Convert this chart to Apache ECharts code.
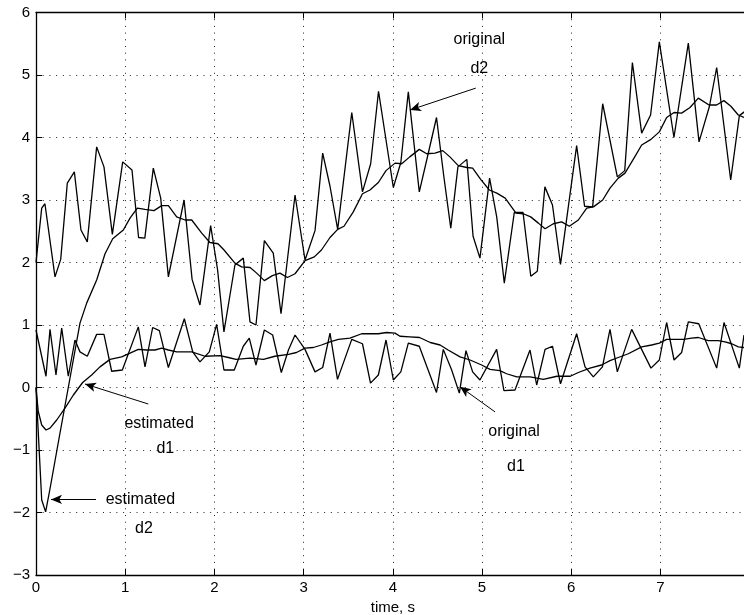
<!DOCTYPE html>
<html>
<head>
<meta charset="utf-8">
<script src="https://cdn.jsdelivr.net/npm/echarts@6/dist/echarts.min.js"></script>
<style>
  html, body { margin: 0; padding: 0; background: #fff; }
  #chart { width: 744px; height: 615px; }
</style>
</head>
<body>
<div id="chart"></div>
<script>
// Disturbance signals over time: [time in s, value]
const originalD2 = [
  [0, 2.0], [0.064, 2.87], [0.10, 2.94], [0.213, 1.77], [0.277, 2.05], [0.351, 3.27],
  [0.43, 3.45], [0.504, 2.52], [0.575, 2.33], [0.68, 3.85], [0.762, 3.53], [0.856, 2.45],
  [0.972, 3.61], [1.076, 3.48], [1.15, 2.40], [1.22, 2.39], [1.315, 3.51], [1.398, 3.03],
  [1.484, 1.77], [1.66, 3.0], [1.75, 1.73], [1.838, 1.32], [1.958, 2.59], [2.036, 1.88],
  [2.107, 0.89], [2.23, 1.96], [2.324, 2.07], [2.399, 1.05], [2.466, 1.0], [2.56, 2.35],
  [2.66, 2.15], [2.747, 1.18], [2.904, 3.08], [3.016, 2.04], [3.128, 2.51], [3.214, 3.75],
  [3.296, 3.22], [3.382, 2.53], [3.54, 4.40], [3.66, 3.13], [3.752, 3.58], [3.84, 4.74],
  [4.006, 3.20], [4.09, 3.6], [4.174, 4.73], [4.297, 3.13], [4.39, 3.70], [4.49, 4.32],
  [4.57, 3.4], [4.65, 2.55], [4.73, 3.53], [4.83, 3.65], [4.90, 2.42], [4.977, 2.07],
  [5.085, 3.35], [5.165, 2.73], [5.25, 1.67], [5.362, 2.80], [5.46, 2.80], [5.547, 1.78],
  [5.62, 1.86], [5.705, 3.21], [5.79, 2.92], [5.88, 1.97], [6.061, 3.87], [6.15, 2.90],
  [6.24, 2.89], [6.353, 4.54], [6.517, 3.37], [6.60, 3.47], [6.686, 5.2], [6.79, 4.07],
  [6.89, 4.36], [6.988, 5.53], [7.152, 4.0], [7.313, 5.51], [7.433, 3.93], [7.55, 4.5],
  [7.631, 5.12], [7.788, 3.32], [7.885, 4.35], [7.94, 4.41]
];

const estimatedD2 = [
  [0, 0], [0.064, -1.80], [0.108, -1.99], [0.157, -1.62], [0.26, -0.8], [0.362, 0.0],
  [0.493, 1.03], [0.568, 1.35], [0.68, 1.72], [0.774, 2.14], [0.86, 2.38], [0.979, 2.52],
  [1.054, 2.71], [1.136, 2.87], [1.222, 2.85], [1.323, 2.83], [1.409, 2.91], [1.484, 2.91],
  [1.577, 2.73], [1.671, 2.68], [1.746, 2.68], [1.858, 2.47], [1.95, 2.32], [2.04, 2.30],
  [2.108, 2.20], [2.23, 1.99], [2.305, 1.93], [2.4, 1.92], [2.474, 1.83], [2.56, 1.71],
  [2.65, 1.79], [2.735, 1.83], [2.818, 1.76], [2.904, 1.82], [3.016, 2.03], [3.12, 2.09],
  [3.2, 2.2], [3.296, 2.40], [3.382, 2.53], [3.453, 2.58], [3.557, 2.81], [3.66, 3.10],
  [3.744, 3.16], [3.838, 3.28], [3.924, 3.47], [4.025, 3.59], [4.1, 3.58], [4.19, 3.69],
  [4.297, 3.81], [4.38, 3.74], [4.473, 3.75], [4.56, 3.79], [4.64, 3.69], [4.734, 3.55],
  [4.83, 3.52], [4.895, 3.51], [4.985, 3.33], [5.082, 3.16], [5.166, 3.11], [5.26, 3.03],
  [5.381, 2.79], [5.463, 2.78], [5.546, 2.73], [5.632, 2.63], [5.707, 2.54], [5.8, 2.62],
  [5.893, 2.65], [5.979, 2.58], [6.08, 2.68], [6.174, 2.87], [6.249, 2.89], [6.353, 3.0],
  [6.435, 3.19], [6.528, 3.35], [6.603, 3.43], [6.704, 3.67], [6.79, 3.88], [6.894, 3.97],
  [6.988, 4.09], [7.07, 4.32], [7.153, 4.40], [7.238, 4.39], [7.332, 4.48], [7.425, 4.63],
  [7.545, 4.52], [7.63, 4.52], [7.712, 4.59], [7.79, 4.50], [7.873, 4.36], [7.937, 4.32]
];

const originalD1 = [
  [0, 0.92], [0.112, 0.18], [0.157, 0.93], [0.224, 0.2], [0.288, 0.95], [0.362, 0.18],
  [0.437, 0.76], [0.493, 0.57], [0.575, 0.50], [0.68, 0.85], [0.762, 0.85], [0.848, 0.26],
  [0.968, 0.28], [1.147, 0.97], [1.222, 0.33], [1.308, 0.96], [1.383, 0.91], [1.484, 0.32],
  [1.663, 1.10], [1.757, 0.57], [1.838, 0.41], [1.943, 0.57], [2.025, 1.01], [2.107, 0.28],
  [2.223, 0.28], [2.324, 0.66], [2.391, 0.79], [2.466, 0.36], [2.56, 0.92], [2.653, 0.84],
  [2.75, 0.24], [2.83, 0.6], [2.904, 0.84], [3.016, 0.61], [3.128, 0.25], [3.214, 0.32],
  [3.296, 0.87], [3.38, 0.13], [3.54, 0.77], [3.66, 0.70], [3.75, 0.07], [3.838, 0.20],
  [3.924, 0.76], [4.006, 0.12], [4.09, 0.25], [4.174, 0.71], [4.297, 0.66], [4.49, -0.08],
  [4.566, 0.61], [4.66, 0.28], [4.746, -0.09], [4.82, 0.59], [4.895, 0.25], [4.977, 0.12],
  [5.164, 0.61], [5.246, -0.05], [5.37, -0.04], [5.538, 0.60], [5.613, 0.04], [5.707, 0.61],
  [5.79, 0.66], [5.88, 0.06], [6.061, 0.86], [6.155, 0.33], [6.248, 0.17], [6.35, 0.33],
  [6.435, 0.93], [6.517, 0.25], [6.678, 0.93], [6.894, 0.31], [6.988, 0.44], [7.07, 1.04],
  [7.153, 0.44], [7.238, 0.56], [7.313, 1.05], [7.43, 1.02], [7.631, 0.31], [7.713, 1.04],
  [7.885, 0.31], [7.937, 0.84]
];

const estimatedD1 = [
  [0, 0], [0.025, -0.38], [0.064, -0.6], [0.112, -0.68], [0.157, -0.65], [0.232, -0.52],
  [0.325, -0.33], [0.419, -0.12], [0.523, 0.08], [0.624, 0.2], [0.717, 0.33], [0.83, 0.45],
  [0.96, 0.49], [1.054, 0.55], [1.147, 0.61], [1.24, 0.6], [1.334, 0.6], [1.41, 0.63],
  [1.484, 0.6], [1.577, 0.57], [1.746, 0.57], [1.895, 0.5], [2.063, 0.51], [2.156, 0.48],
  [2.242, 0.45], [2.4, 0.47], [2.55, 0.45], [2.678, 0.5], [2.83, 0.53], [2.92, 0.56],
  [3.016, 0.63], [3.11, 0.64], [3.2, 0.68], [3.296, 0.73], [3.39, 0.77], [3.52, 0.79],
  [3.651, 0.86], [3.838, 0.86], [3.93, 0.88], [4.025, 0.87], [4.08, 0.82], [4.19, 0.81],
  [4.3, 0.80], [4.42, 0.72], [4.53, 0.68], [4.62, 0.6], [4.754, 0.49], [4.866, 0.44],
  [4.996, 0.36], [5.09, 0.29], [5.2, 0.27], [5.276, 0.22], [5.39, 0.17], [5.54, 0.17],
  [5.688, 0.13], [5.84, 0.18], [5.99, 0.18], [6.08, 0.24], [6.21, 0.31], [6.34, 0.36],
  [6.435, 0.43], [6.528, 0.48], [6.64, 0.54], [6.79, 0.65], [6.902, 0.68], [6.988, 0.71],
  [7.07, 0.77], [7.257, 0.77], [7.35, 0.79], [7.425, 0.80], [7.537, 0.75], [7.65, 0.75],
  [7.725, 0.73], [7.8, 0.70], [7.874, 0.65], [7.937, 0.64]
];

// Axis ranges
const xRange = [0, 8];
const yRange = [-3, 6];

// Text callouts: two lines of text, each anchored in data space,
// with an arrow from a tail point to the curve it describes.
const callouts = [
  { lines: [['original', [4.97, 5.56]], ['d2', [4.97, 5.11]]], arrow: [[4.93, 4.79], [4.193, 4.44]] },
  { lines: [['estimated', [1.38, -0.57]], ['d1', [1.45, -0.98]]], arrow: [[1.259, -0.264], [0.549, 0.056]] },
  { lines: [['estimated', [1.17, -1.80]], ['d2', [1.21, -2.26]]], arrow: [[0.673, -1.79], [0.168, -1.79]] },
  { lines: [['original', [5.36, -0.70]], ['d1', [5.38, -1.26]]], arrow: [[5.146, -0.39], [4.753, 0.013]] }
];

const FONT = 'Liberation Sans, Arial, Helvetica, sans-serif';
const INK = '#000';

const chart = echarts.init(document.getElementById('chart'), null, { renderer: 'canvas' });

const markPointData = [];
const markLineData = [];
callouts.forEach(c => {
  c.lines.forEach(([text, coord]) => {
    markPointData.push({ name: text, coord: coord });
  });
  markLineData.push([{ coord: c.arrow[0] }, { coord: c.arrow[1] }]);
});

function lineSeries(name, data) {
  return {
    name: name,
    type: 'line',
    data: data,
    showSymbol: false,
    symbol: 'none',
    smooth: false,
    lineStyle: { color: INK, width: 1.3 },
    silent: true,
    z: 3
  };
}

const series = [
  lineSeries('original d2', originalD2),
  lineSeries('estimated d2', estimatedD2),
  lineSeries('original d1', originalD1),
  lineSeries('estimated d1', estimatedD1)
];

series[0].markPoint = {
  silent: true,
  symbol: 'circle',
  symbolSize: 0,
  itemStyle: { color: 'transparent' },
  label: {
    show: true,
    position: 'inside',
    formatter: '{b}',
    color: INK,
    fontFamily: FONT,
    fontSize: 16
  },
  data: markPointData
};
series[0].markLine = {
  silent: true,
  symbol: ['none', 'arrow'],
  symbolSize: [7, 11],
  label: { show: false },
  lineStyle: { color: INK, width: 1, type: 'solid' },
  emphasis: { disabled: true },
  data: markLineData
};

const option = {
  animation: false,
  backgroundColor: '#fff',
  grid: {
    left: 36, top: 12.5, height: 562.5, width: 713.6,
    containLabel: false,
    outerBoundsMode: 'none'
  },
  xAxis: [
    {
      type: 'value',
      position: 'bottom',
      min: xRange[0], max: xRange[1], interval: 1,
      name: 'time, s',
      nameLocation: 'middle',
      nameGap: 25,
      nameTextStyle: { color: INK, fontFamily: FONT, fontSize: 15 },
      axisLine: { show: true, onZero: false, lineStyle: { color: INK, width: 1.3 } },
      axisTick: { show: true, inside: true, length: 6, lineStyle: { color: INK, width: 1 } },
      axisLabel: { color: INK, fontFamily: FONT, fontSize: 15, margin: 5 },
      splitLine: { show: true, lineStyle: { color: '#222', width: 1, type: [1, 5.7] } }
    },
    {
      type: 'value',
      position: 'top',
      min: xRange[0], max: xRange[1], interval: 1,
      axisLine: { show: true, onZero: false, lineStyle: { color: INK, width: 1.3 } },
      axisTick: { show: true, inside: true, length: 6, lineStyle: { color: INK, width: 1 } },
      axisLabel: { show: false },
      splitLine: { show: false }
    }
  ],
  yAxis: [
    {
      type: 'value',
      position: 'left',
      min: yRange[0], max: yRange[1], interval: 1,
      axisLine: { show: true, onZero: false, lineStyle: { color: INK, width: 1.3 } },
      axisTick: { show: true, inside: true, length: 6, lineStyle: { color: INK, width: 1 } },
      axisLabel: {
        color: INK, fontFamily: FONT, fontSize: 15, margin: 6,
        formatter: v => String(v).replace('-', '\u2212')
      },
      splitLine: { show: true, lineStyle: { color: '#222', width: 1, type: [1, 5.7] } }
    }
  ],
  series: series
};

chart.setOption(option);
</script>
</body>
</html>
